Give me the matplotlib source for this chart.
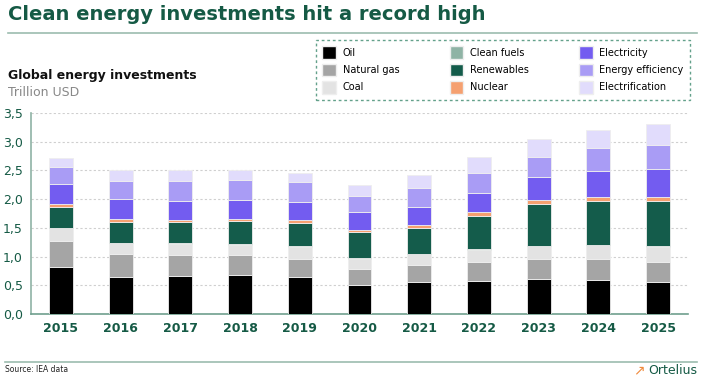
import matplotlib.pyplot as plt
from matplotlib.patches import Patch
from matplotlib.lines import Line2D

years = ["2015", "2016", "2017", "2018", "2019", "2020", "2021", "2022", "2023", "2024", "2025"]

oil = [0.82, 0.64, 0.66, 0.68, 0.65, 0.51, 0.55, 0.58, 0.61, 0.60, 0.55]
natural_gas = [0.45, 0.40, 0.37, 0.35, 0.31, 0.27, 0.30, 0.33, 0.35, 0.36, 0.36]
coal = [0.22, 0.19, 0.19, 0.18, 0.21, 0.18, 0.19, 0.21, 0.22, 0.24, 0.25]
clean_fuels = [0.01, 0.01, 0.01, 0.01, 0.01, 0.01, 0.01, 0.01, 0.01, 0.01, 0.02]
renewables = [0.37, 0.37, 0.37, 0.40, 0.41, 0.45, 0.45, 0.58, 0.72, 0.76, 0.78]
nuclear = [0.05, 0.04, 0.04, 0.04, 0.05, 0.05, 0.05, 0.06, 0.07, 0.07, 0.07]
electricity = [0.34, 0.35, 0.33, 0.33, 0.31, 0.30, 0.32, 0.34, 0.40, 0.45, 0.49]
energy_efficiency = [0.30, 0.32, 0.34, 0.34, 0.35, 0.29, 0.33, 0.35, 0.36, 0.40, 0.43]
electrification = [0.15, 0.18, 0.19, 0.17, 0.16, 0.18, 0.22, 0.27, 0.31, 0.32, 0.35]

series = [
    ("Oil", oil, "#000000"),
    ("Natural gas", natural_gas, "#a5a5a5"),
    ("Coal", coal, "#e3e3e3"),
    ("Clean fuels", clean_fuels, "#8fb3a5"),
    ("Renewables", renewables, "#145c4b"),
    ("Nuclear", nuclear, "#f5a070"),
    ("Electricity", electricity, "#735cf0"),
    ("Energy efficiency", energy_efficiency, "#a99cf5"),
    ("Electrification", electrification, "#e1dcfc"),
]

green = "#155a45"
W, H = 704, 378

fig = plt.figure(figsize=(W / 100, H / 100), dpi=100)
ax = fig.add_axes([31 / W, 1 - 314 / H, (688 - 31) / W, (314 - 113) / H])

x = range(len(years))
bottom = [0.0] * len(years)
for name, vals, col in series:
    ax.bar(x, vals, width=0.4, bottom=bottom, color=col, edgecolor="#eeeeee", linewidth=0.6, zorder=3)
    bottom = [b + v for b, v in zip(bottom, vals)]

ax.set_xlim(-0.5, 10.5)
ax.set_ylim(0, 3.5)
ax.set_yticks([0, 0.5, 1, 1.5, 2, 2.5, 3, 3.5])
ax.set_yticklabels([f"{v:.1f}".replace(".", ",") for v in ax.get_yticks()], color=green, fontsize=9)
ax.set_xticks(list(x))
ax.set_xticklabels(years, color=green, fontsize=9, fontweight="bold")
ax.tick_params(length=0, pad=6)
ax.grid(axis="y", color="#cfcfcf", linestyle=(0, (2, 2)), linewidth=0.8, zorder=0)
for s in ["top", "right"]:
    ax.spines[s].set_visible(False)
ax.spines["left"].set_color("#8fb3a5")
ax.spines["bottom"].set_color("#6f9f8e")
ax.spines["left"].set_linewidth(1.2)
ax.spines["bottom"].set_linewidth(1.2)

# titles
fig.text(8 / W, 1 - 15 / H, "Clean energy investments hit a record high", fontsize=14,
         fontweight="bold", color=green, va="center", ha="left")
fig.add_artist(Line2D([8 / W, 697 / W], [1 - 33 / H, 1 - 33 / H], color="#9cbcaf", lw=1.2))
fig.text(8 / W, 1 - 76 / H, "Global energy investments", fontsize=9, fontweight="bold",
         color="#111111", va="center")
fig.text(8 / W, 1 - 92 / H, "Trillion USD", fontsize=9, color="#888888", va="center")

# legend
handles = [Patch(facecolor=c, edgecolor="#eeeeee") for _, _, c in series]
labels = [n for n, _, _ in series]
leg = fig.legend(handles, labels, ncol=3, loc="upper left",
                 bbox_to_anchor=(316 / W, 1 - 103 / H, 374 / W, 63 / H), mode="expand",
                 fontsize=7, handlelength=1.4, handleheight=1.6, labelspacing=0.5,
                 borderpad=0.65, handletextpad=0.7, fancybox=False, borderaxespad=0)
fr = leg.get_frame()
fr.set_edgecolor("#3d8a6e")
fr.set_linestyle((0, (2, 2)))
fr.set_linewidth(1.0)

# footer
fig.add_artist(Line2D([5 / W, 697 / W], [1 - 362 / H, 1 - 362 / H], color="#9cbcaf", lw=1.2))
fig.text(5 / W, 1 - 370 / H, "Source: IEA data", fontsize=5.5, color="#222222", va="center")
fig.text(697 / W, 1 - 370 / H, "Ortelius", fontsize=9, color=green, va="center", ha="right")
fig.text(645 / W, 1 - 370 / H, "\u2197", fontsize=10, color="#f08a3c", va="center", ha="right")

fig.savefig("out.png", dpi=100)
